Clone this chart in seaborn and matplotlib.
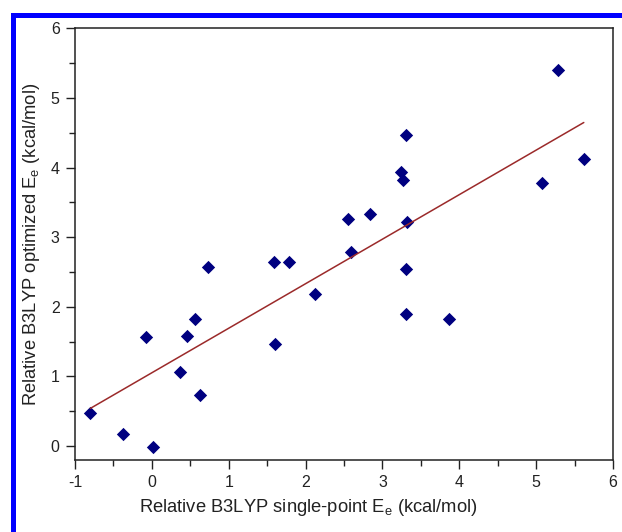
import matplotlib
matplotlib.use("Agg")
import matplotlib.pyplot as plt
from matplotlib.patches import Rectangle
from matplotlib.ticker import MultipleLocator
import numpy as np
import pandas as pd
import seaborn as sns

# Relative energies (kcal/mol): single-point vs. fully optimized B3LYP
single_point = [-0.80, -0.37, 0.01, -0.08, 0.365, 0.455, 0.56, 0.63, 0.73,
                1.59, 1.785, 1.60, 2.12, 2.59, 2.546, 2.84, 3.24, 3.27,
                3.31, 3.32, 3.31, 3.31, 3.87, 5.07, 5.28, 5.62]
optimized = [0.48, 0.17, -0.01, 1.57, 1.06, 1.58, 1.82, 0.74, 2.575,
             2.64, 2.64, 1.47, 2.18, 2.79, 3.257, 3.33, 3.93, 3.815,
             4.47, 3.22, 2.55, 1.89, 1.82, 3.78, 5.40, 4.13]

x_ticks = [-1, 0, 1, 2, 3, 4, 5, 6]
y_ticks = [0, 1, 2, 3, 4, 5, 6]

df = pd.DataFrame({"sp": single_point, "opt": optimized})

sns.set_style("ticks")
plt.rcParams["font.family"] = ["Liberation Sans", "DejaVu Sans"]
plt.rcParams["mathtext.fontset"] = "custom"
plt.rcParams["mathtext.rm"] = "Liberation Sans"

W, H = 622, 532
fig = plt.figure(figsize=(W / 100, H / 100), dpi=100)
ax = fig.add_axes([75 / W, 1 - 460 / H, (613 - 75) / W, (460 - 28.3) / H])

sns.regplot(data=df, x="sp", y="opt", ax=ax, ci=None, truncate=True,
            marker="D",
            scatter_kws={"s": 46, "color": "#000080", "alpha": 1,
                         "linewidths": 0},
            line_kws={"color": "#9b2a2a", "linewidth": 1.1})

ax.set_xlim(-1, 6)
ax.set_ylim(-0.2, 6)
ax.set_xticks(x_ticks)
ax.set_yticks(y_ticks)
ax.set_xticklabels([str(t) for t in x_ticks])
ax.set_yticklabels([str(t) for t in y_ticks])
ax.xaxis.set_minor_locator(MultipleLocator(0.5))
ax.yaxis.set_minor_locator(MultipleLocator(0.5))
ax.tick_params(which="major", direction="out", length=6.5, width=1.0,
               color="#222222", labelsize=11.5, labelcolor="#222222", pad=4.5)
ax.tick_params(which="minor", direction="out", length=4.2, width=1.0,
               color="#222222")
ax.tick_params(top=False, right=False, which="both")

for s in ax.spines.values():
    s.set_visible(True)
    s.set_linewidth(1.1)
    s.set_color("#222222")

ax.set_xlabel(r"Relative B3LYP single-point E$_\mathregular{e}$ (kcal/mol)",
              fontsize=13.2, color="#222222")
ax.set_ylabel(r"Relative B3LYP optimized E$_\mathregular{e}$ (kcal/mol)",
              fontsize=13.2, color="#222222")
ax.xaxis.set_label_coords((308 - 75) / 538, -(497 - 460) / 431.7)
ax.yaxis.set_label_coords(-(75 - 42) / 538, 0.5)

# Blue frame along the left and top edges
top = 1 - 14.5 / H
frame = Rectangle((12.5 / W, -0.1), 1.2, top + 0.1,
                  transform=fig.transFigure, fill=False,
                  edgecolor="#0000ff", linewidth=3.6, clip_on=False)
fig.patches.append(frame)

fig.savefig("out.png", dpi=100)
